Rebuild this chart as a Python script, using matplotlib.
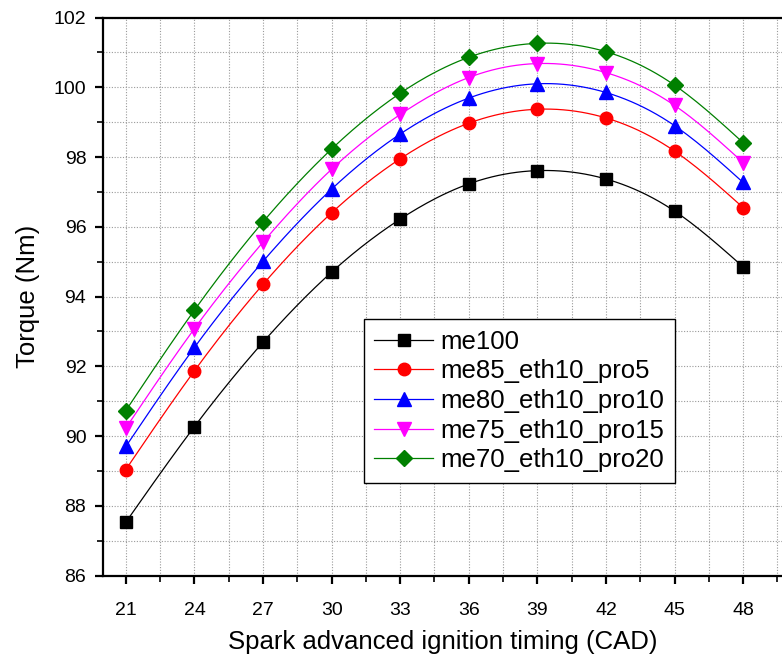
import numpy as np
import matplotlib.pyplot as plt
from matplotlib.ticker import MultipleLocator

plt.rcParams['font.family'] = ['Liberation Sans', 'DejaVu Sans']

timing = [21, 24, 27, 30, 33, 36, 39, 42, 45, 48]

me100 = [87.53, 90.27, 92.69, 94.70, 96.22, 97.23, 97.61, 97.37, 96.45, 94.85]
me85_eth10_pro5 = [89.04, 91.87, 94.35, 96.40, 97.95, 98.97, 99.37, 99.12, 98.17, 96.55]
me80_eth10_pro10 = [89.70, 92.54, 95.01, 97.08, 98.66, 99.69, 100.10, 99.85, 98.90, 97.27]
me75_eth10_pro15 = [90.23, 93.08, 95.56, 97.65, 99.22, 100.28, 100.68, 100.42, 99.48, 97.84]
me70_eth10_pro20 = [90.73, 93.61, 96.14, 98.23, 99.83, 100.86, 101.26, 101.02, 100.06, 98.41]

series = [
    ("me100", me100, "black", "s", 8),
    ("me85_eth10_pro5", me85_eth10_pro5, "red", "o", 9),
    ("me80_eth10_pro10", me80_eth10_pro10, "blue", "^", 10),
    ("me75_eth10_pro15", me75_eth10_pro15, "magenta", "v", 10),
    ("me70_eth10_pro20", me70_eth10_pro20, "green", "D", 8),
]


def spline(x, y, n=200):
    # natural cubic spline, drawn like Origin's "spline" connector
    x = np.asarray(x, float)
    y = np.asarray(y, float)
    h = np.diff(x)
    m = len(x)
    A = np.zeros((m, m))
    b = np.zeros(m)
    A[0, 0] = A[-1, -1] = 1
    for i in range(1, m - 1):
        A[i, i - 1] = h[i - 1]
        A[i, i] = 2 * (h[i - 1] + h[i])
        A[i, i + 1] = h[i]
        b[i] = 6 * ((y[i + 1] - y[i]) / h[i] - (y[i] - y[i - 1]) / h[i - 1])
    M = np.linalg.solve(A, b)
    xs = np.linspace(x[0], x[-1], n)
    idx = np.clip(np.searchsorted(x, xs) - 1, 0, m - 2)
    x0, x1 = x[idx], x[idx + 1]
    hh = x1 - x0
    t0 = x1 - xs
    t1 = xs - x0
    ys = (M[idx] * t0 ** 3 + M[idx + 1] * t1 ** 3) / (6 * hh) \
        + (y[idx] / hh - M[idx] * hh / 6) * t0 \
        + (y[idx + 1] / hh - M[idx + 1] * hh / 6) * t1
    return xs, ys


fig = plt.figure(figsize=(7.82, 6.61), dpi=100)
ax = fig.add_axes([0.1317, 0.1293, 0.8683, 0.8442])

for name, vals, col, mk, ms in series:
    xs, ys = spline(timing, vals)
    ax.plot(xs, ys, color=col, lw=0.9, zorder=3)
    ax.plot(timing, vals, linestyle="none", marker=mk, ms=ms, color=col, zorder=4)
    ax.plot([], [], color=col, lw=0.9, marker=mk, ms=ms, label=name)

ax.set_xlim(20.0, 49.7)
ax.set_ylim(86, 102)
ax.xaxis.set_major_locator(MultipleLocator(3))
ax.xaxis.set_minor_locator(MultipleLocator(1.5))
ax.yaxis.set_major_locator(MultipleLocator(2))
ax.yaxis.set_minor_locator(MultipleLocator(1))
ax.set_xticks(timing)

ax.grid(True, which="both", color="#9a9a9a", linestyle=(0, (1, 1.5)), linewidth=0.8, zorder=0)
ax.set_axisbelow(True)

ax.spines["right"].set_visible(False)
for s in ["left", "bottom", "top"]:
    ax.spines[s].set_linewidth(1.6)

ax.tick_params(which="major", direction="out", length=6, width=1.6, labelsize=14, pad=6)
ax.tick_params(which="minor", direction="out", length=4, width=1.2)
ax.tick_params(axis="x", which="major", pad=13)
ax.tick_params(top=False, right=False)

ax.set_xlabel("Spark advanced ignition timing (CAD)", fontsize=18.5, labelpad=8)
ax.set_ylabel("Torque (Nm)", fontsize=18.5, labelpad=10)

leg = ax.legend(loc="upper left", bbox_to_anchor=(0.384, 0.459), fontsize=18.5,
                frameon=True, fancybox=False, edgecolor="black", framealpha=1,
                handlelength=2.3, handletextpad=0.3, labelspacing=0.22,
                borderpad=0.4, borderaxespad=0)
leg.get_frame().set_linewidth(1.0)

fig.savefig("out.png", dpi=100)
